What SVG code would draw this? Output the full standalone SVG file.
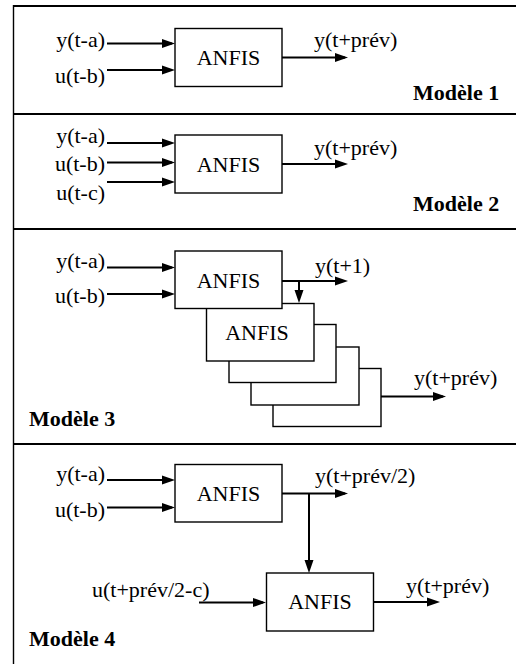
<svg xmlns="http://www.w3.org/2000/svg" width="516" height="664" viewBox="0 0 516 664" font-family="Liberation Serif, DejaVu Serif, serif">
<style>
.t{font-size:22px;fill:#000}
.b{font-size:22px;font-weight:bold;fill:#000}
.box{fill:#fff;stroke:#000;stroke-width:1.4}
.fr{stroke:#000;stroke-width:2;fill:none}
.fv{stroke:#000;stroke-width:1.4;fill:none}
.ar{stroke:#000;stroke-width:2;fill:none;marker-end:url(#ah)}
</style>
<defs>
<marker id="ah" markerUnits="userSpaceOnUse" markerWidth="14" markerHeight="10" refX="10" refY="4.5" orient="auto" overflow="visible">
<path d="M0,0 L13,4.5 L0,9 Z" fill="#000"/>
</marker>
</defs>
<g id="frame">
<line class="fv" x1="13.5" y1="5" x2="13.5" y2="664"/>
<line class="fr" x1="13" y1="6" x2="516" y2="6"/>
<line class="fr" x1="13" y1="114" x2="516" y2="114"/>
<line class="fr" x1="13" y1="229" x2="516" y2="229"/>
<line class="fr" x1="13" y1="444" x2="516" y2="444"/>
</g>
<g id="connectors">
<line class="ar" x1="107" y1="43.5" x2="172" y2="43.5"/>
<line class="ar" x1="107" y1="70" x2="172" y2="70"/>
<line class="ar" x1="282" y1="57.5" x2="345" y2="57.5"/>
<line class="ar" x1="107" y1="143" x2="172" y2="143"/>
<line class="ar" x1="107" y1="162.5" x2="172" y2="162.5"/>
<line class="ar" x1="107" y1="182" x2="172" y2="182"/>
<line class="ar" x1="282" y1="164" x2="345" y2="164"/>
<line class="ar" x1="107" y1="267.5" x2="172" y2="267.5"/>
<line class="ar" x1="107" y1="294" x2="172" y2="294"/>
<line class="ar" x1="282" y1="281" x2="345" y2="281"/>
<line class="ar" x1="299" y1="281" x2="299" y2="300"/>
<line class="ar" x1="381" y1="396.5" x2="443" y2="396.5"/>
<line class="ar" x1="107" y1="480" x2="172" y2="480"/>
<line class="ar" x1="107" y1="507.5" x2="172" y2="507.5"/>
<line class="ar" x1="282" y1="493.5" x2="345" y2="493.5"/>
<line class="ar" x1="309" y1="493.5" x2="309" y2="570"/>
<line class="ar" x1="199" y1="602.5" x2="263" y2="602.5"/>
<line class="ar" x1="374" y1="602" x2="437" y2="602"/>
</g>
<g id="model1">
<rect class="box" x="175" y="28.5" width="107" height="58"/>
<text class="t" x="228.5" y="65" text-anchor="middle">ANFIS</text>
<text class="t" x="105" y="46.5" text-anchor="end">y(t-a)</text>
<text class="t" x="105" y="83" text-anchor="end">u(t-b)</text>
<text class="t" x="314" y="46.5">y(t+prév)</text>
<text class="b" x="413" y="100">Modèle 1</text>
</g>
<g id="model2">
<rect class="box" x="175" y="135" width="107" height="58"/>
<text class="t" x="228.5" y="171.5" text-anchor="middle">ANFIS</text>
<text class="t" x="105" y="143" text-anchor="end">y(t-a)</text>
<text class="t" x="105" y="171" text-anchor="end">u(t-b)</text>
<text class="t" x="105" y="200" text-anchor="end">u(t-c)</text>
<text class="t" x="314" y="155">y(t+prév)</text>
<text class="b" x="413" y="210.5">Modèle 2</text>
</g>
<g id="model3">
<rect class="box" x="273" y="368.5" width="108" height="58"/>
<rect class="box" x="251" y="347" width="108" height="58"/>
<rect class="box" x="229" y="324.5" width="107" height="58"/>
<rect class="box" x="206.5" y="303.5" width="107.5" height="57.5"/>
<text class="t" x="257" y="340" text-anchor="middle">ANFIS</text>
<rect class="box" x="175" y="251" width="107" height="57.5"/>
<text class="t" x="228.5" y="288" text-anchor="middle">ANFIS</text>
<text class="t" x="105" y="268" text-anchor="end">y(t-a)</text>
<text class="t" x="105" y="303" text-anchor="end">u(t-b)</text>
<text class="t" x="315" y="273">y(t+1)</text>
<text class="t" x="414" y="385">y(t+prév)</text>
<text class="b" x="29" y="426">Modèle 3</text>
</g>
<g id="model4">
<rect class="box" x="175" y="464.5" width="107" height="57.5"/>
<text class="t" x="228.5" y="501" text-anchor="middle">ANFIS</text>
<text class="t" x="105" y="481" text-anchor="end">y(t-a)</text>
<text class="t" x="105" y="517" text-anchor="end">u(t-b)</text>
<text class="t" x="315" y="483">y(t+prév/2)</text>
<rect class="box" x="266.5" y="573" width="107" height="58"/>
<text class="t" x="320" y="609" text-anchor="middle">ANFIS</text>
<text class="t" x="92" y="597">u(t+prév/2-c)</text>
<text class="t" x="406" y="593">y(t+prév)</text>
<text class="b" x="29" y="646">Modèle 4</text>
</g>
</svg>
